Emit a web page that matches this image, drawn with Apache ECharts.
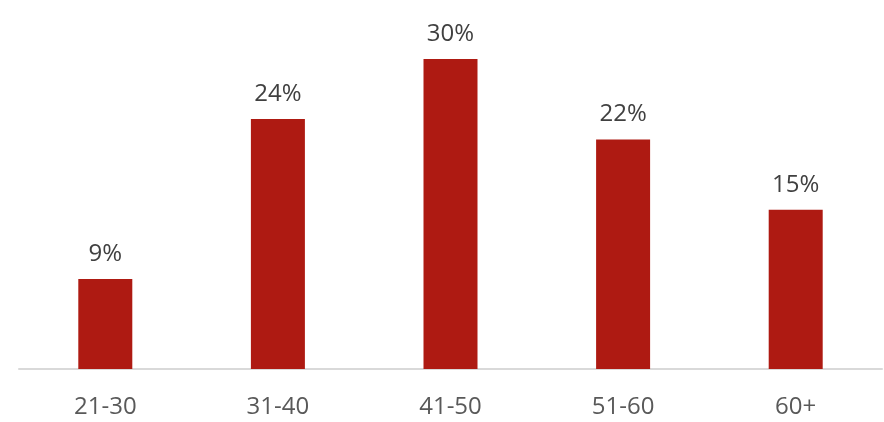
<!DOCTYPE html>
<html>
<head>
<meta charset="utf-8">
<script src="https://cdn.jsdelivr.net/npm/echarts@6/dist/echarts.min.js"></script>
<style>
  html, body { margin: 0; padding: 0; background: #fff; }
  #chart { width: 884px; height: 422px; }
</style>
</head>
<body>
<div id="chart"></div>
<script>
// age groups and their share (%)
const categories = ['21-30', '31-40', '41-50', '51-60', '60+'];
const shares = [8.7, 24.2, 30, 22.2, 15.4];

const chart = echarts.init(document.getElementById('chart'));
chart.setOption({
    animation: false,
    grid: { left: 19, right: 2, top: 59, bottom: 53 },
    xAxis: {
        type: 'category',
        data: categories,
        axisLine: { lineStyle: { color: '#d9d9d9', width: 2 } },
        axisTick: { show: false },
        axisLabel: {
            color: '#595959',
            fontSize: 24,
            fontFamily: 'Open Sans',
            margin: 26
        }
    },
    yAxis: {
        type: 'value',
        min: 0,
        max: 30,
        show: false,
        splitLine: { show: false }
    },
    series: [{
        type: 'bar',
        data: shares,
        barWidth: 54,
        itemStyle: { color: '#ae1a12' },
        label: {
            show: true,
            position: 'top',
            distance: 13,
            formatter: p => Math.round(p.value) + '%',
            color: '#404040',
            fontSize: 24,
            fontFamily: 'Open Sans'
        }
    }]
});
</script>
</body>
</html>
